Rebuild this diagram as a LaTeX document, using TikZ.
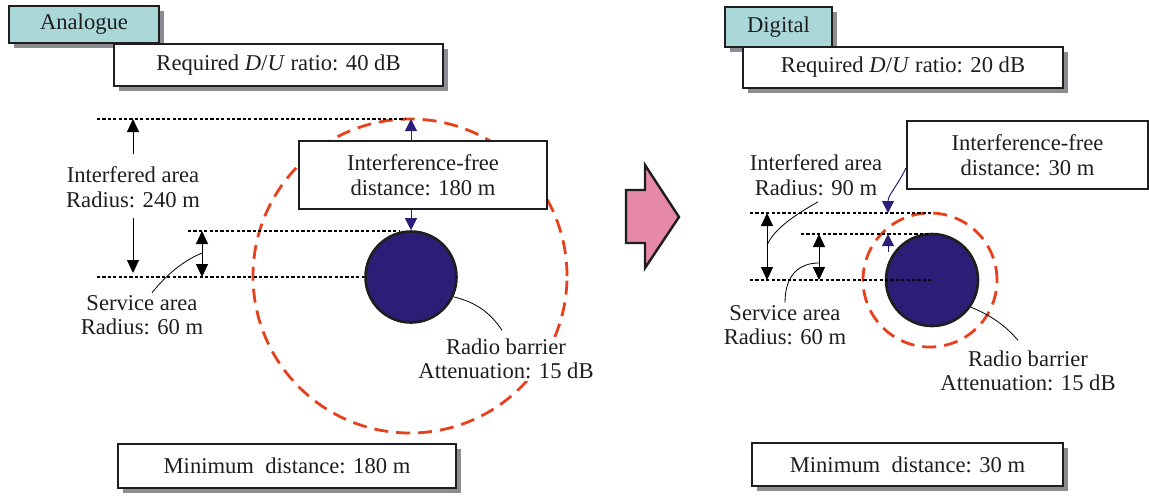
\documentclass[tikz,border=0pt]{standalone}
\usepackage{fontspec}
\setmainfont{Liberation Serif}
\usetikzlibrary{arrows.meta,shadows}

\definecolor{tealfill}{RGB}{170,216,216}
\definecolor{barrierblue}{RGB}{44,30,118}
\definecolor{ringred}{RGB}{232,64,28}
\definecolor{pinkfill}{RGB}{230,136,170}
\definecolor{shadowgray}{RGB}{140,140,146}
\definecolor{inkgray}{RGB}{30,30,30}

\tikzset{
  shadowbox/.style={draw=inkgray,line width=1.3pt,fill=white,inner sep=0pt,
    drop shadow={shadow xshift=2.5pt,shadow yshift=-2.5pt,fill=shadowgray,opacity=1}},
  tagbox/.style={shadowbox,fill=tealfill},
  plainbox/.style={draw=inkgray,line width=1.1pt,fill=white,inner sep=0pt,align=center},
  textnode/.style={align=center,inner sep=1pt},
  levelline/.style={line width=0.55pt,dash pattern=on 1.6pt off 1.1pt},
  ring/.style={draw=ringred,line width=1.4pt,dash pattern=on 7pt off 4pt},
  barrier/.style={circle,draw=inkgray,line width=1.3pt,fill=barrierblue,inner sep=0pt},
  blackarr/.style={line width=0.5pt,-{Triangle[width=6pt,length=6.5pt]}},
  bothblack/.style={line width=0.5pt,{Triangle[width=6pt,length=6.5pt]}-{Triangle[width=6pt,length=6.5pt]}},
  bluearr/.style={draw=barrierblue,line width=0.5pt,-{Triangle[width=6pt,length=6pt]},barrierblue},
  pointer/.style={line width=0.4pt}
}

\begin{document}
\begin{tikzpicture}[x=0.5pt,y=-0.5pt,font=\fontsize{11.3}{12.3}\selectfont,text=inkgray]
\useasboundingbox (0,0) rectangle (1149,495);
% analogue side
\coordinate (ringA) at (410,276);
\draw[ring] (ringA) circle (78.5pt);
\node[tagbox,minimum width=75pt,minimum height=18.5pt] (tagA) at (84,24.5) {Analogue};
\node[shadowbox,minimum width=164.5pt,minimum height=21pt] (ratioA) at (278.5,65) {Required \textit{D}/\textit{U} ratio: 40 dB};
\node[barrier,minimum size=45.5pt] (barA) at (411,277) {};
\node[plainbox,minimum width=124pt,minimum height=34pt] (freeA) at (423,175) {Interference-free\\distance: 180 m};
\node[textnode] (intA) at (133,187) {Interfered area\\Radius: 240 m};
\node[textnode] (servA) at (142,315) {Service area\\Radius: 60 m};
\node[textnode,fill=white] (radA) at (506,359) {Radio barrier\\Attenuation: 15 dB};
\node[shadowbox,minimum width=169pt,minimum height=22pt] (minA) at (287,466) {Minimum\ \ distance: 180 m};
\coordinate (a1) at (97,119);
\coordinate (a1e) at (405,119);
\coordinate (a2) at (188,231);
\coordinate (a2e) at (400,231);
\coordinate (a3) at (97,277);
\coordinate (sA) at (202,231);
\coordinate (sB) at (202,277);
\foreach \p/\q in {a1/a1e,a2/a2e,a3/barA.west}
  \draw[levelline] (\p) -- (\q);
\draw[blackarr] ([yshift=5pt]intA.north) -- (intA.north |- a1);
\draw[blackarr] ([yshift=-4pt]intA.south) -- ([yshift=2pt]intA.south |- a3);
\draw[bothblack] (sA) -- (sB);
\draw[pointer] ([xshift=5pt]servA.north) .. controls (172,268) and (190,258) .. (202,253);
\draw[pointer] (barA.-25) .. controls (475,302) and (490,312) .. ([xshift=-2pt,yshift=3pt]radA.north);
\draw[bluearr] (barA |- freeA.north) -- (barA |- a1);
\draw[bluearr] (barA |- freeA.south) -- (barA.north);
% change-over arrow
\draw[line width=1.2pt,draw=inkgray,fill=pinkfill] (626,190) -- (645,190) -- (645,165) -- (679,217)
  -- (645,268) -- (645,243) -- (626,243) -- cycle;
% digital side
\coordinate (ringD) at (930,280);
\draw[ring] (ringD) circle (33.5pt);
\node[tagbox,minimum width=53.5pt,minimum height=20pt] (tagD) at (778.5,27) {Digital};
\node[shadowbox,minimum width=160pt,minimum height=20.5pt] (ratioD) at (903,67.5) {Required \textit{D}/\textit{U} ratio: 20 dB};
\node[plainbox,minimum width=120.5pt,minimum height=34pt] (freeD) at (1027.5,155) {Interference-free\\distance: 30 m};
\node[barrier,minimum size=46pt] (barD) at (932,280) {};
\node[textnode] (intD) at (816,175) {Interfered area\\Radius: 90 m};
\node[textnode] (servD) at (785,325) {Service area\\Radius: 60 m};
\node[textnode] (radD) at (1028,371) {Radio barrier\\Attenuation: 15 dB};
\node[shadowbox,minimum width=155.5pt,minimum height=21.5pt] (minD) at (907.5,464.5) {Minimum\ \ distance: 30 m};
\coordinate (d1) at (750,213);
\coordinate (d1e) at (932,213);
\coordinate (d2) at (801,234);
\coordinate (d2e) at (930,234);
\coordinate (d3) at (750,280);
\coordinate (tD) at (888,213);
\coordinate (uD) at (888,252);
\foreach \p/\q in {d1/d1e,d2/d2e,d3/barD.center}
  \draw[levelline] (\p) -- (\q);
\draw[bothblack] (767,213) -- (767,280);
\draw[bothblack] (819,234) -- (819,280);
\draw[pointer] ([xshift=1pt,yshift=-2pt]intD.south) .. controls (795,215) and (775,228) .. (767,245);
\draw[pointer] (servD.north) .. controls (785,274) and (800,263) .. (819,263);
\draw[pointer] (barD.-35) .. controls (990,315) and (1005,325) .. ([xshift=-5pt,yshift=4pt]radD.north);
\draw[bluearr] ([yshift=-6.5pt]freeD.west) .. controls (898,185) and (888,195) .. (tD);
\draw[bluearr] (uD) -- (uD |- d2);
\end{tikzpicture}
\end{document}
